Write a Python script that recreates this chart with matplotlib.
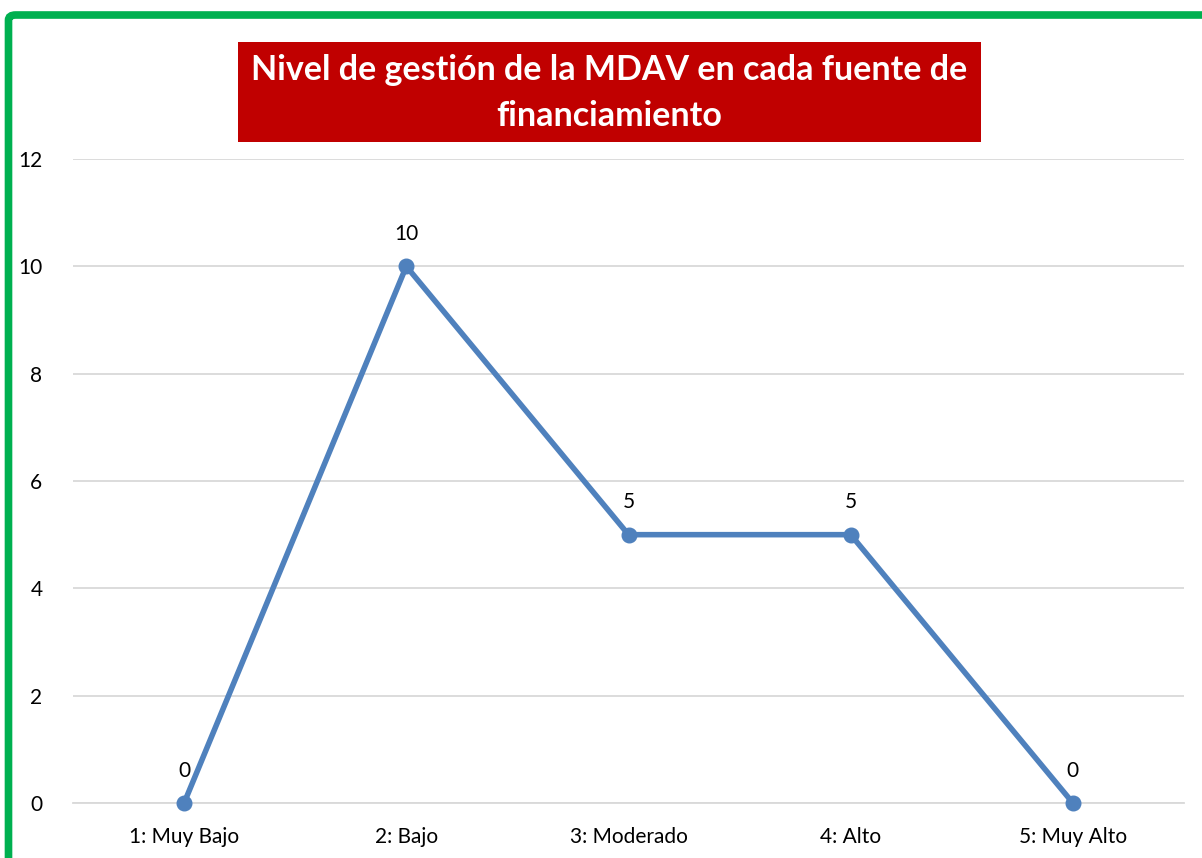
import matplotlib
matplotlib.use("Agg")
import matplotlib.pyplot as plt
from matplotlib.patches import FancyBboxPatch

categories = ["1: Muy Bajo", "2: Bajo", "3: Moderado", "4: Alto", "5: Muy Alto"]
values = [0, 10, 5, 5, 0]
yticks = [0, 2, 4, 6, 8, 10, 12]
title = "Nivel de gestión de la MDAV en cada fuente de\nfinanciamiento"

plt.rcParams['font.family'] = ['Lato', 'DejaVu Sans']

fig = plt.figure(figsize=(12.02, 8.58), dpi=100)
ax = fig.add_axes([73/1202, 1 - 803/858, (1184 - 73)/1202, (803 - 159)/858])

x = list(range(1, len(categories) + 1))
ax.plot(x, values, color='#4F81BD', linewidth=4, marker='o', markersize=10.5,
        solid_capstyle='round', zorder=3, clip_on=False)
for xi, v in zip(x, values):
    ax.annotate(str(v), (xi, v), xytext=(0, 16), textcoords='offset points',
                ha='center', va='bottom', fontsize=15, color='black')

ax.set_xlim(0.5, 5.5)
ax.set_ylim(0, 12)
ax.set_xticks(x)
ax.set_xticklabels(categories, fontsize=15)
ax.set_yticks(yticks)
ax.set_yticklabels([str(t) for t in yticks], fontsize=15)
ax.grid(axis='y', color='#D9D9D9', linewidth=1.3)
ax.set_axisbelow(True)
for s in ax.spines.values():
    s.set_visible(False)
ax.spines['bottom'].set_visible(True)
ax.spines['bottom'].set_color('#D9D9D9')
ax.spines['bottom'].set_linewidth(1.3)
ax.tick_params(length=0, pad=17)
ax.tick_params(axis='y', pad=22)

# title box
fig.patches.append(plt.Rectangle((238/1202, 1 - 142/858), (981 - 238)/1202, 100/858,
                                 transform=fig.transFigure, facecolor='#C00000',
                                 edgecolor='none', zorder=1))
fig.text(609/1202, 1 - 93/858, title, ha='center', va='center', fontsize=24.5,
         fontweight='bold', color='white', linespacing=1.5, zorder=2)

# green frame
fig.patches.append(FancyBboxPatch((8.5/1202, -0.2), 1.2, 1.2 - 15/858,
                                  boxstyle='round,pad=0,rounding_size=0.006',
                                  transform=fig.transFigure, facecolor='none',
                                  edgecolor='#00B050', linewidth=5.5, zorder=5))

fig.savefig("out.png", dpi=100)
